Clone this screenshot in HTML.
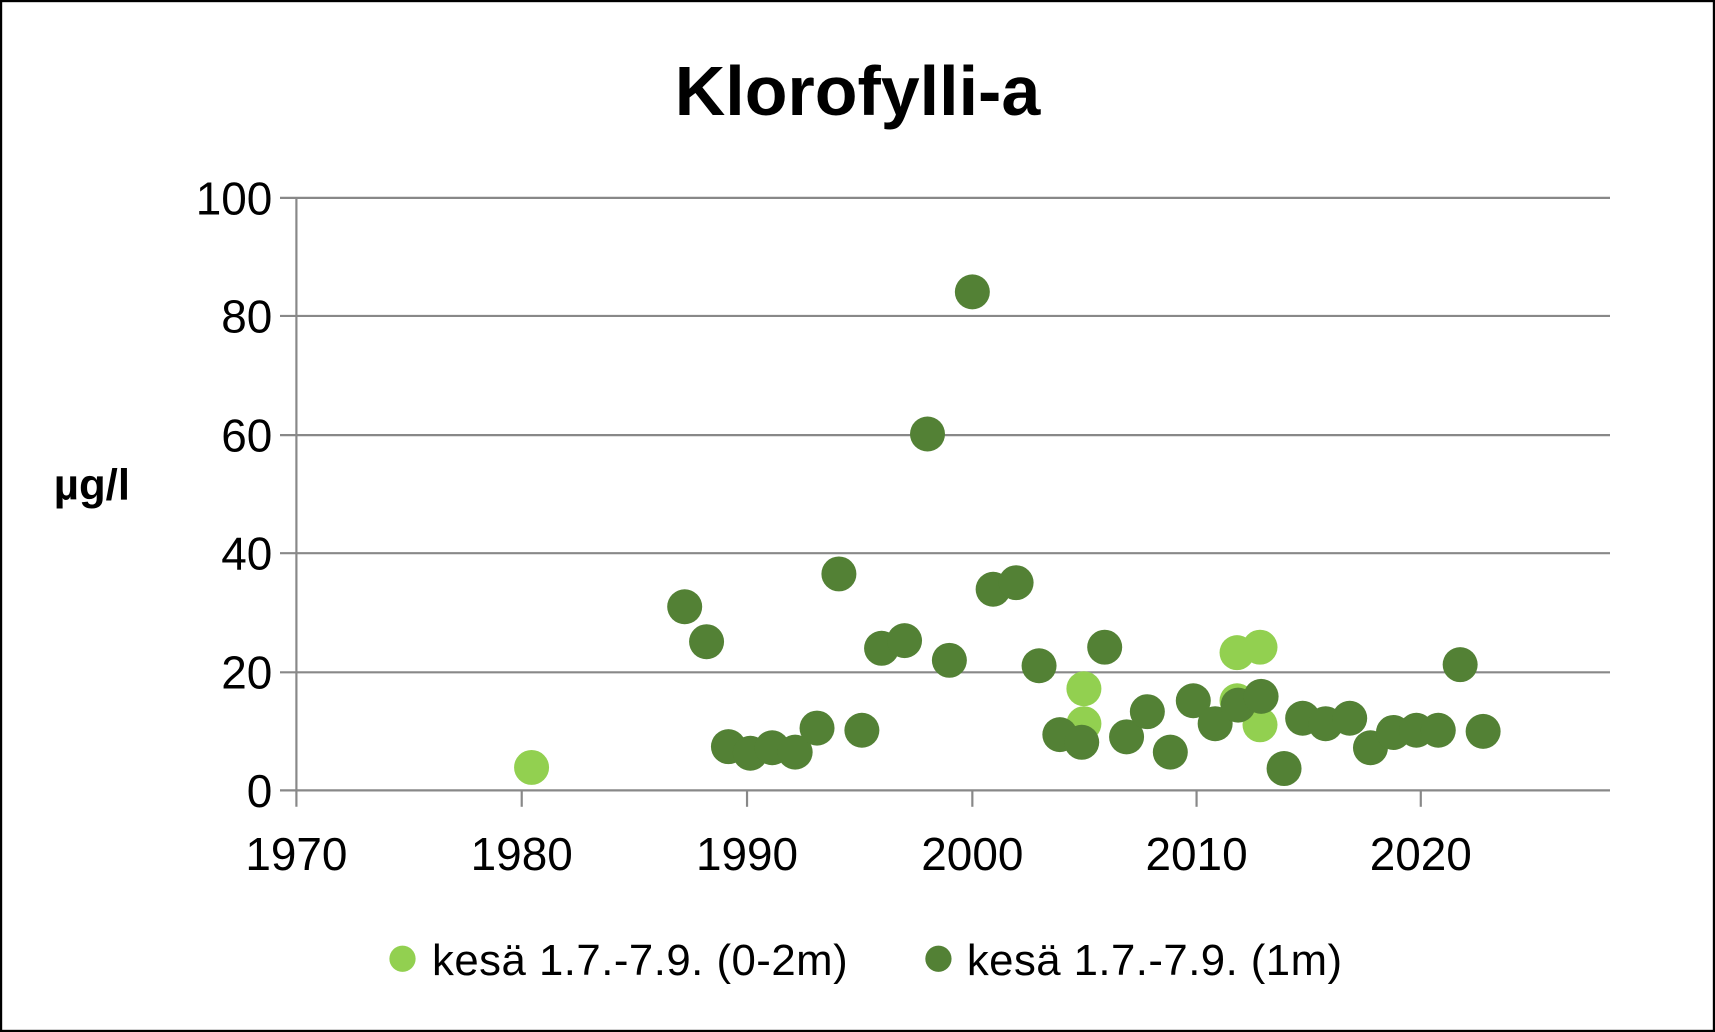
<!DOCTYPE html>
<html><head><meta charset="utf-8"><style>html,body{margin:0;padding:0;background:#fff}svg{display:block}</style></head>
<body>
<svg width="1715" height="1032" viewBox="0 0 1568 944" preserveAspectRatio="none" xmlns="http://www.w3.org/2000/svg" font-family="Liberation Sans, sans-serif">
<rect x="1" y="1" width="1566" height="942" fill="#fff" stroke="#000" stroke-width="2"/>
<text x="784" y="105" text-anchor="middle" font-size="64" font-weight="bold">Klorofylli-a</text>
<g stroke="#888" stroke-width="2">
<line x1="256" y1="181" x2="1472" y2="181"/>
<line x1="256" y1="289" x2="1472" y2="289"/>
<line x1="256" y1="398" x2="1472" y2="398"/>
<line x1="256" y1="506" x2="1472" y2="506"/>
<line x1="256" y1="615" x2="1472" y2="615"/>
<line x1="256" y1="723" x2="1472" y2="723"/>
<line x1="271" y1="181" x2="271" y2="738"/>
<line x1="477" y1="723" x2="477" y2="738"/>
<line x1="683" y1="723" x2="683" y2="738"/>
<line x1="889" y1="723" x2="889" y2="738"/>
<line x1="1094" y1="723" x2="1094" y2="738"/>
<line x1="1299" y1="723" x2="1299" y2="738"/>
</g>
<g font-size="42" text-anchor="end">
<text x="249" y="196">100</text><text x="249" y="304">80</text><text x="249" y="413">60</text>
<text x="249" y="521">40</text><text x="249" y="630">20</text><text x="249" y="738">0</text>
</g>
<g font-size="42" text-anchor="middle">
<text x="271" y="796">1970</text><text x="477" y="796">1980</text><text x="683" y="796">1990</text>
<text x="889" y="796">2000</text><text x="1094" y="796">2010</text><text x="1299" y="796">2020</text>
</g>
<text x="84" y="457" text-anchor="middle" font-size="40" font-weight="bold">µg/l</text>
<g fill="#92d050">
<circle cx="486" cy="702" r="16"/><circle cx="991" cy="630" r="16"/><circle cx="991" cy="662" r="16"/>
<circle cx="1131" cy="597" r="16"/><circle cx="1131" cy="641" r="16"/><circle cx="1152" cy="592" r="16"/><circle cx="1152" cy="663" r="16"/>
</g>
<g fill="#538135">
<circle cx="626" cy="555" r="16"/><circle cx="646" cy="587" r="16"/><circle cx="666" cy="683" r="16"/><circle cx="686" cy="689" r="16"/>
<circle cx="706" cy="684" r="16"/><circle cx="727" cy="688" r="16"/><circle cx="747" cy="666" r="16"/><circle cx="788" cy="668" r="16"/>
<circle cx="767" cy="525" r="16"/><circle cx="806" cy="593" r="16"/><circle cx="827" cy="586" r="16"/><circle cx="848" cy="397" r="16"/>
<circle cx="868" cy="604" r="16"/><circle cx="889" cy="267" r="16"/><circle cx="908" cy="539" r="16"/><circle cx="929" cy="533" r="16"/>
<circle cx="950" cy="609" r="16"/><circle cx="969" cy="672" r="16"/><circle cx="989" cy="679" r="16"/><circle cx="1010" cy="592" r="16"/>
<circle cx="1030" cy="674" r="16"/><circle cx="1049" cy="651" r="16"/><circle cx="1070" cy="688" r="16"/><circle cx="1091" cy="641" r="16"/>
<circle cx="1111" cy="662" r="16"/><circle cx="1132" cy="645" r="16"/><circle cx="1153" cy="637" r="16"/><circle cx="1174" cy="703" r="16"/>
<circle cx="1191" cy="657" r="16"/><circle cx="1212" cy="662" r="16"/><circle cx="1234" cy="657" r="16"/><circle cx="1253" cy="684" r="16"/>
<circle cx="1274" cy="670" r="16"/><circle cx="1295" cy="668" r="16"/><circle cx="1315" cy="668" r="16"/><circle cx="1335" cy="608" r="16"/>
<circle cx="1356" cy="669" r="16"/>
</g>
<circle cx="368" cy="877" r="12" fill="#92d050"/>
<text x="395" y="892" font-size="40" textLength="380">kesä 1.7.-7.9. (0-2m)</text>
<circle cx="858" cy="877" r="12" fill="#538135"/>
<text x="884" y="892" font-size="40" textLength="343">kesä 1.7.-7.9. (1m)</text>
</svg>
</body></html>
